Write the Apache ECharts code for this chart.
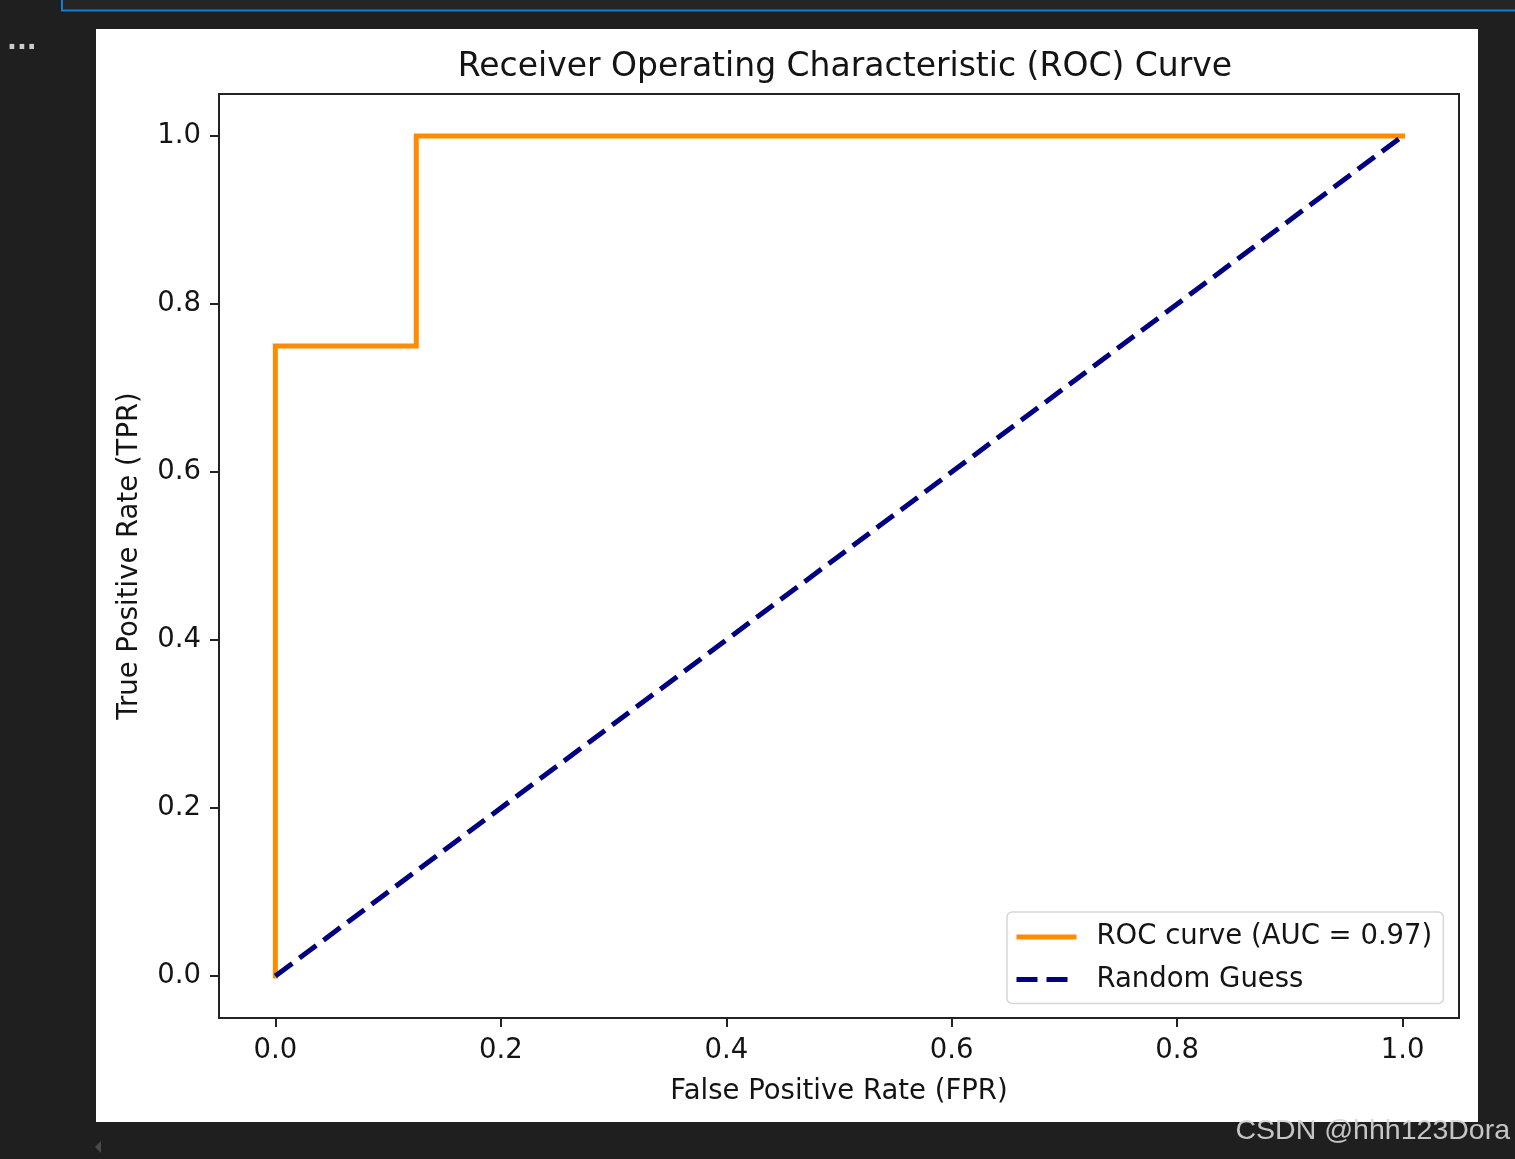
<!DOCTYPE html>
<html>
<head>
<meta charset="utf-8">
<script src="https://cdn.jsdelivr.net/npm/echarts@6/dist/echarts.min.js"></script>
<style>
html,body{margin:0;padding:0;background:#1f1f1f;}
#chart{width:1515px;height:1159px;}
</style>
</head>
<body>
<div id="chart"></div>
<script>
// Data
const rocFpr = [0.0, 0.0, 0.125, 0.125, 1.0];
const rocTpr = [0.0, 0.75, 0.75, 1.0, 1.0];
const guessFpr = [0.0, 1.0];
const guessTpr = [0.0, 1.0];
const tickValues = [0.0, 0.2, 0.4, 0.6, 0.8, 1.0];
const rocName = 'ROC curve (AUC = 0.97)';
const guessName = 'Random Guess';
const titleText = 'Receiver Operating Characteristic (ROC) Curve';
const xName = 'False Positive Rate (FPR)';
const yName = 'True Positive Rate (TPR)';

const rocData = rocFpr.map((x, i) => [x, rocTpr[i]]);
const guessData = guessFpr.map((x, i) => [x, guessTpr[i]]);

const FONT = 'DejaVu Sans';
const TXT = '#141414';
const FS = 27.5;

const chart = echarts.init(document.getElementById('chart'), null, {renderer: 'canvas'});

const axisCommon = {
  type: 'value',
  min: -0.05,
  max: 1.05,
  splitLine: {show: false},
  axisLine: {show: true, onZero: false, lineStyle: {color: '#222', width: 2}},
  axisTick: {show: true, customValues: tickValues, length: 9, inside: false, lineStyle: {color: '#222', width: 2}},
  axisLabel: {customValues: tickValues, fontFamily: FONT, fontSize: FS, color: TXT,
    formatter: v => v.toFixed(1)},
  nameLocation: 'middle',
  nameTextStyle: {fontFamily: FONT, fontSize: FS, color: TXT}
};

chart.setOption({
  backgroundColor: '#1f1f1f',
  animation: false,
  graphic: [
    {type: 'rect', shape: {x: 62, y: -5, width: 1470, height: 15.5}, style: {fill: '#252526', stroke: '#0e7fd6', lineWidth: 2}, z: -10},
    {type: 'rect', shape: {x: 96, y: 29, width: 1382, height: 1093}, style: {fill: '#ffffff'}, z: -10},
    {type: 'text', x: 7, y: 29, style: {text: '...', fill: '#cccccc', font: 'bold 26px "DejaVu Sans"'}, z: 10},
    {type: 'polygon', shape: {points: [[101, 1141], [101, 1153], [95, 1147]]}, style: {fill: '#4a4a4a'}, z: 10},
    {type: 'text', x: 1510, y: 1146, style: {text: 'CSDN @hhh123Dora', fill: 'rgba(215,215,215,0.9)', font: '28.5px "Liberation Sans"', textAlign: 'right', textVerticalAlign: 'bottom'}, z: 10}
  ],
  title: {
    text: titleText,
    left: 840,
    top: 46,
    textAlign: 'center',
    textStyle: {fontFamily: FONT, fontSize: 33, fontWeight: 'normal', color: TXT}
  },
  grid: {
    left: 219, top: 94, width: 1240, height: 924,
    show: true, backgroundColor: '#ffffff', borderColor: '#222', borderWidth: 2,
    containLabel: false
  },
  xAxis: Object.assign({}, axisCommon, {
    name: xName, nameGap: 60,
    axisLabel: Object.assign({}, axisCommon.axisLabel, {margin: 19})
  }),
  yAxis: Object.assign({}, axisCommon, {
    name: yName, nameGap: 75,
    axisLabel: Object.assign({}, axisCommon.axisLabel, {margin: 18, padding: [3, 0, 0, 0]})
  }),
  legend: {
    left: 1007, top: 912,
    orient: 'vertical',
    data: [rocName, guessName],
    itemWidth: 60, itemHeight: 14, itemGap: 14.5,
    padding: [11, 11, 10, 7],
    borderColor: '#d6d6d6', borderWidth: 1.5, borderRadius: 5,
    backgroundColor: 'rgba(255,255,255,0.8)',
    itemStyle: {color: 'rgba(0,0,0,0)', borderWidth: 0, opacity: 0},
    lineStyle: {width: 5, type: 'inherit', cap: 'butt'},
    textStyle: {fontFamily: FONT, fontSize: FS, color: TXT, padding: [0, 0, 0, 15]}
  },
  series: [
    {
      name: rocName, type: 'line', data: rocData,
      symbol: 'none', showSymbol: false,
      lineStyle: {color: '#ff8c00', width: 5, cap: 'square', join: 'miter'},
      itemStyle: {color: '#ff8c00'}
    },
    {
      name: guessName, type: 'line', data: guessData,
      symbol: 'none', showSymbol: false,
      lineStyle: {color: '#000080', width: 5, type: [21, 9]},
      itemStyle: {color: '#000080'}
    }
  ]
});
</script>
</body>
</html>
